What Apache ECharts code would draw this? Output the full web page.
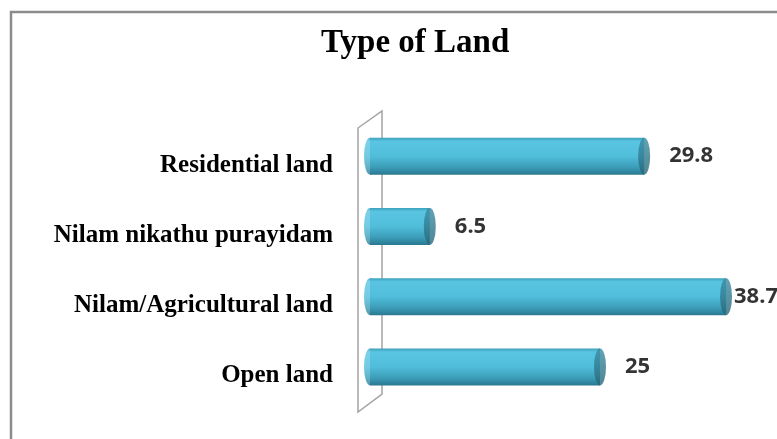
<!DOCTYPE html>
<html>
<head>
<meta charset="utf-8">
<title>Type of Land</title>
<script src="https://cdn.jsdelivr.net/npm/echarts@6/dist/echarts.min.js"></script>
<style>
  html, body { margin: 0; padding: 0; background: #fff; }
  #main { width: 777px; height: 439px; }
</style>
</head>
<body>
<div id="main"></div>
<script>
var categories = ['Residential land', 'Nilam nikathu purayidam', 'Nilam/Agricultural land', 'Open land'];
var values = [29.8, 6.5, 38.7, 25];
var axisMax = 40;

var myChart = echarts.init(document.getElementById('main'));

// cylinder body shading
function bodyColor() {
  return new echarts.graphic.LinearGradient(0, 0, 0, 1, [
    { offset: 0, color: '#3b9fba' },
    { offset: 0.1, color: '#5ac5e2' },
    { offset: 0.5, color: '#50bedb' },
    { offset: 0.8, color: '#3c9db8' },
    { offset: 1, color: '#2a7890' }
  ]);
}
var capColor = new echarts.graphic.LinearGradient(0, 0, 0, 1, [
  { offset: 0, color: '#3a8ca3' },
  { offset: 1, color: '#266779' }
]);

var maxVal = Math.max.apply(null, values);

var option = {
  animation: false,
  title: {
    text: 'Type of Land',
    left: 316,
    top: 22,
    textStyle: {
      fontFamily: 'Liberation Serif',
      fontSize: 33,
      fontWeight: 'bold',
      color: '#000'
    }
  },
  grid: {
    left: 370,
    right: 39,
    top: 121,
    bottom: 37
  },
  xAxis: {
    type: 'value',
    min: 0,
    max: axisMax,
    show: false
  },
  yAxis: {
    type: 'category',
    data: categories,
    inverse: true,
    axisLine: { show: false },
    axisTick: { show: false },
    axisLabel: {
      margin: 37,
      verticalAlign: 'top',
      lineHeight: 18,
      fontFamily: 'Liberation Serif',
      fontSize: 25,
      fontWeight: 'bold',
      color: '#000'
    }
  },
  series: [
    {
      // left rounded end of the cylinders
      type: 'scatter',
      z: 1,
      symbol: 'circle',
      symbolSize: [12, 37],
      itemStyle: { color: bodyColor() },
      data: categories.map(function (c) { return [0, c]; })
    },
    {
      type: 'bar',
      z: 2,
      barWidth: 37,
      itemStyle: { color: bodyColor() },
      data: values
    },
    {
      // end caps + value labels
      type: 'scatter',
      z: 3,
      symbol: 'circle',
      symbolSize: [12, 37],
      itemStyle: { color: capColor },
      label: {
        show: true,
        position: 'right',
        distance: 19,
        fontFamily: 'Noto Sans',
        fontSize: 22,
        fontWeight: 'bold',
        color: '#000',
        formatter: function (p) { return p.value[0]; }
      },
      data: values.map(function (v, i) {
        var d = { value: [v, categories[i]] };
        if (v === maxVal) d.label = { distance: 2 };
        return d;
      })
    }
  ]
};

myChart.setOption(option);

// 3D wall behind the bars, placed from the grid
var x0 = myChart.convertToPixel({ xAxisIndex: 0 }, 0);
var gTop = 121, gBot = 439 - 37;
myChart.setOption({
  graphic: [
    {
      type: 'rect',
      z: 0,
      shape: { x: 11, y: 12, width: 900, height: 600 },
      style: { fill: 'none', stroke: '#8c8c8c', lineWidth: 2.5 }
    },
    {
      type: 'polygon',
      z: 0,
      shape: {
        points: [
          [x0 - 12, gTop + 7], [x0 + 12, gTop - 10],
          [x0 + 12, gBot - 8], [x0 - 12, gBot + 10]
        ]
      },
      style: { fill: 'none', stroke: '#a3a3a3', lineWidth: 1.5 }
    }
  ]
});
</script>
</body>
</html>
